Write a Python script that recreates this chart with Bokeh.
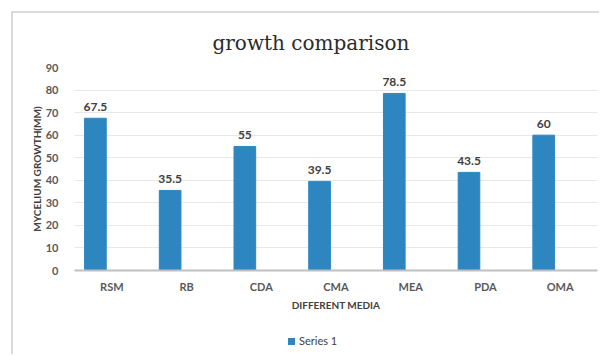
from bokeh.plotting import figure
from bokeh.models import (ColumnDataSource, Range1d, FactorRange, LabelSet, Div,
                          SingleIntervalTicker)
from bokeh.layouts import column
from bokeh.core.properties import value
from bokeh.transform import dodge
from bokeh.embed import file_html
from bokeh.resources import INLINE

media = ["RSM", "RB", "CDA", "CMA", "MEA", "PDA", "OMA"]
growth = [67.5, 35.5, 55, 39.5, 78.5, 43.5, 60]
labels = ["67.5", "35.5", "55", "39.5", "78.5", "43.5", "60"]
series_name = "Series 1"

src = ColumnDataSource(dict(media=media, growth=growth, labels=labels))

FONT = "Lato"
TXT = "#595959"
BAR = "#2E86C1"
FRAME = "2px solid #dadada"

p = figure(width=588, height=318, x_range=FactorRange(*media, range_padding=0),
           y_range=Range1d(0, 90), output_backend="svg", toolbar_location=None,
           title="growth comparison", margin=(0, 0, 0, 0),
           min_border_left=61, min_border_right=4, min_border_top=54, min_border_bottom=61)
p.styles = {"border-top": FRAME, "border-left": FRAME}

p.title.text_font = "DejaVu Serif"
p.title.text_font_size = "20px"
p.title.text_font_style = "normal"
p.title.text_color = "#2b2b2b"
p.title.align = "left"
p.title.offset = 138
p.title.standoff = 26

r = p.vbar(x=dodge("media", -0.22, range=p.x_range), top="growth", width=0.29,
           source=src, color=BAR)

lbl = LabelSet(x=dodge("media", -0.22, range=p.x_range), y="growth", text="labels",
               source=src, text_align="center", text_baseline="bottom", y_offset=7,
               text_font=value(FONT), text_font_size=value("12px"),
               text_font_style=value("bold"), text_color=value("#404040"))
p.add_layout(lbl)

p.outline_line_color = None
p.xgrid.grid_line_color = None
p.ygrid.grid_line_color = "#e8e8e8"
p.yaxis.ticker = SingleIntervalTicker(interval=10)
p.yaxis.axis_line_color = None
p.yaxis.major_tick_line_color = None
p.yaxis.minor_tick_line_color = None
p.xaxis.major_tick_line_color = None
p.xaxis.axis_line_color = "#bfbfbf"
p.xaxis.axis_line_width = 2

for ax in (p.xaxis, p.yaxis):
    ax.major_label_text_font = FONT
    ax.major_label_text_font_size = "11px"
    ax.major_label_text_font_style = "bold"
    ax.major_label_text_color = TXT
    ax.axis_label_text_font = FONT
    ax.axis_label_text_font_size = "10px"
    ax.axis_label_text_font_style = "bold"
    ax.axis_label_text_color = "#404040"

p.xaxis.axis_label = "DIFFERENT MEDIA"
p.yaxis.axis_label = "MYCELIUM GROWTH(MM)"
p.xaxis.major_label_standoff = 3
p.xaxis.axis_label_standoff = 3
p.yaxis.major_label_standoff = 10
p.yaxis.axis_label_standoff = 0

legend_div = Div(
    text=(f'<div style="padding-left:275px;padding-top:4px;font-family:{FONT};'
          f'font-size:11px;color:#404040;white-space:nowrap;">'
          f'<span style="display:inline-block;width:7px;height:7px;background:{BAR};'
          f'margin-right:4px;"></span>{series_name}</div>'),
    width=588, height=25, margin=(0, 0, 0, 0))
legend_div.styles = {"border-left": FRAME}

layout = column(p, legend_div, margin=(11, 0, 0, 11), spacing=0)

open("out.html", "w").write(file_html(layout, INLINE))
